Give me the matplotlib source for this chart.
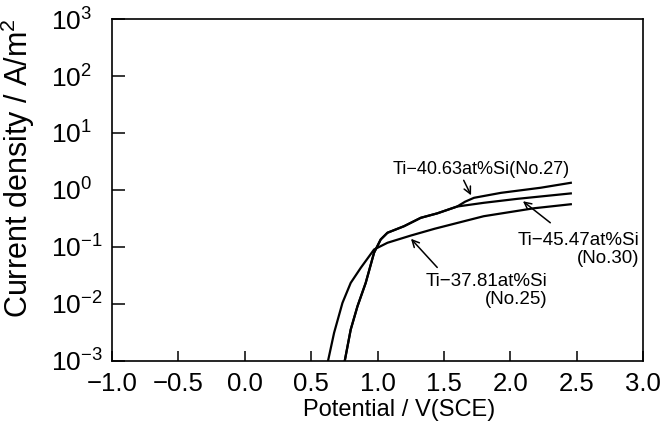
import matplotlib
matplotlib.use("Agg")
import matplotlib.pyplot as plt

plt.rcParams["font.family"] = ["Liberation Sans", "DejaVu Sans"]
plt.rcParams["mathtext.fontset"] = "custom"
plt.rcParams["mathtext.rm"] = "Liberation Sans"
plt.rcParams["mathtext.it"] = "Liberation Sans"

# Ti-37.81at%Si (No.25)
v_no25 = [0.627, 0.673, 0.736, 0.798, 0.874, 0.974, 1.075, 1.25, 1.43, 1.80, 2.18, 2.456]
i_no25 = [0.001, 0.00313, 0.01047, 0.02344, 0.04315, 0.09036, 0.1186, 0.1585, 0.2089, 0.3467, 0.4786, 0.5623]

# Ti-40.63at%Si (No.27)
v_no27 = [0.753, 0.798, 0.849, 0.911, 0.974, 1.024, 1.075, 1.2, 1.326, 1.45, 1.60, 1.66, 1.727, 1.93, 2.23, 2.456]
i_no27 = [0.001, 0.00355, 0.00912, 0.02344, 0.07943, 0.1355, 0.1778, 0.2317, 0.3251, 0.389, 0.5129, 0.6237, 0.7295, 0.8913, 1.096, 1.337]

# Ti-45.47at%Si (No.30)
v_no30 = [0.753, 0.798, 0.849, 0.911, 0.974, 1.024, 1.075, 1.2, 1.326, 1.45, 1.60, 1.80, 2.054, 2.456]
i_no30 = [0.001, 0.00355, 0.00912, 0.02344, 0.07943, 0.1355, 0.1778, 0.2317, 0.3251, 0.389, 0.5129, 0.5957, 0.6998, 0.871]

x_ticks = [-1.0, -0.5, 0.0, 0.5, 1.0, 1.5, 2.0, 2.5, 3.0]
y_ticks = [1e-3, 1e-2, 1e-1, 1e0, 1e1, 1e2, 1e3]
y_ticklabels = [r"$10^{-3}$", r"$10^{-2}$", r"$10^{-1}$", r"$10^{0}$",
                r"$10^{1}$", r"$10^{2}$", r"$10^{3}$"]

fig = plt.figure(figsize=(6.64, 4.32), dpi=100)
ax = fig.add_axes([0.1687, 0.1644, 0.7997, 0.7916])

for v, i in [(v_no25, i_no25), (v_no27, i_no27), (v_no30, i_no30)]:
    ax.plot(v, i, color="black", lw=1.6, solid_joinstyle="round")

ax.set_yscale("log")
ax.set_xlim(-1.0, 3.0)
ax.set_ylim(1e-3, 1e3)
ax.set_xticks(x_ticks)
ax.set_xticklabels([f"{t:.1f}".replace("-", "\u2212") for t in x_ticks])
ax.set_yticks(y_ticks)
ax.set_yticklabels(y_ticklabels)
ax.minorticks_off()
ax.tick_params(axis="both", direction="in", width=1.1)
ax.tick_params(axis="x", length=7, pad=8, labelsize=18.5)
ax.tick_params(axis="y", length=9, pad=44, labelsize=19)
for lbl in ax.get_yticklabels():
    lbl.set_horizontalalignment("left")
for s in ax.spines.values():
    s.set_linewidth(1.2)

ax.set_xlabel("Potential / V(SCE)", fontsize=17)
ax.set_ylabel(r"Current density / A/m$^2$", fontsize=22)
ax.xaxis.set_label_coords(0.54, -0.111)
ax.yaxis.set_label_coords(-0.141, 0.564)

arrow = dict(arrowstyle="->,head_length=0.5,head_width=0.25", color="black", lw=1.1)
ax.text(1.78, 10**0.36, "Ti\u221240.63at%Si(No.27)", fontsize=13, ha="center", va="center")
ax.annotate("", xy=(1.714, 10**-0.137), xytext=(1.64, 10**0.214), arrowprops=arrow)

ax.text(2.97, 10**-1.04, "Ti\u221245.47at%Si\n(No.30)", fontsize=13.5, ha="right", va="center",
        multialignment="right", linespacing=1.1)
ax.annotate("", xy=(2.079, 10**-0.167), xytext=(2.318, 10**-0.605), arrowprops=arrow)

ax.text(2.283, 10**-1.76, "Ti\u221237.81at%Si\n(No.25)", fontsize=13.5, ha="right", va="center",
        multialignment="right", linespacing=1.1)
ax.annotate("", xy=(1.238, 10**-0.82), xytext=(1.464, 10**-1.395), arrowprops=arrow)

fig.savefig("out.png", dpi=100)
